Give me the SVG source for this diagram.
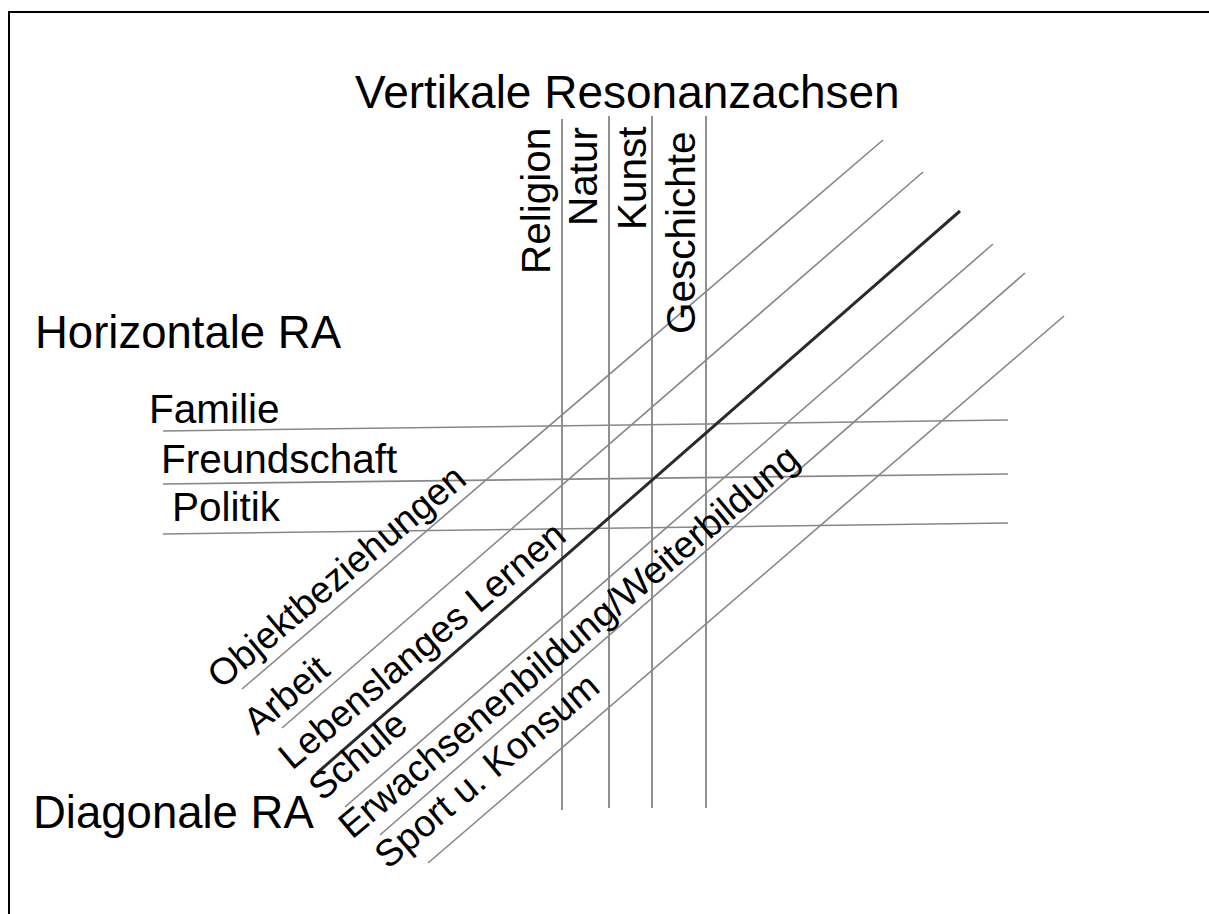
<svg xmlns="http://www.w3.org/2000/svg" width="1209" height="914" viewBox="0 0 1209 914">
  <style>
    .t { font-family: "Liberation Sans", Arial, sans-serif; fill: #000; }
    .head { font-size: 45.5px; }
    .title { font-size: 46px; }
    .lab { font-size: 40.5px; }
    .dlab { font-size: 37.5px; }
    .ax { stroke: #878787; stroke-width: 1.6; fill: none; }
    .axv { stroke: #909090; stroke-width: 2; fill: none; }
    .main { stroke: #2a2a2a; stroke-width: 3; fill: none; }
  </style>
  <rect width="1209" height="914" fill="#fff"/>
  <rect x="9" y="12" width="1300" height="1000" fill="none" stroke="#000" stroke-width="2"/>

  <g id="connectors">
    <!-- vertical axes -->
    <line class="axv" x1="562" y1="119" x2="562" y2="810"/>
    <line class="axv" x1="609" y1="116" x2="609" y2="808"/>
    <line class="axv" x1="652" y1="116" x2="652" y2="808"/>
    <line class="axv" x1="706" y1="116" x2="706" y2="808"/>
    <!-- horizontal axes -->
    <line class="ax" x1="163" y1="431" x2="1008" y2="420"/>
    <line class="ax" x1="163" y1="484" x2="1008" y2="474"/>
    <line class="ax" x1="163" y1="534" x2="1008" y2="523"/>
    <!-- diagonal axes -->
    <line class="ax" x1="242" y1="689" x2="883" y2="140"/>
    <line class="ax" x1="282" y1="728" x2="923" y2="172"/>
    <line class="main" x1="317" y1="773" x2="960" y2="211"/>
    <line class="ax" x1="345" y1="807" x2="993" y2="244"/>
    <line class="ax" x1="380" y1="835" x2="1025" y2="273"/>
    <line class="ax" x1="428" y1="863" x2="1064" y2="316"/>
  </g>

  <g id="headings">
    <text class="t title" x="355" y="108">Vertikale Resonanzachsen</text>
    <text class="t head" x="35" y="348">Horizontale RA</text>
    <text class="t head" x="33" y="828">Diagonale RA</text>
  </g>

  <g id="vertical-labels">
    <text class="t lab" transform="translate(550,274) rotate(-90)">Religion</text>
    <text class="t lab" transform="translate(597,226) rotate(-90)">Natur</text>
    <text class="t lab" transform="translate(646,230) rotate(-90)">Kunst</text>
    <text class="t lab" transform="translate(695,334) rotate(-90)">Geschichte</text>
  </g>

  <g id="horizontal-labels">
    <text class="t lab" x="149" y="423">Familie</text>
    <text class="t lab" x="161" y="473">Freundschaft</text>
    <text class="t lab" x="172" y="521">Politik</text>
  </g>

  <g id="diagonal-labels">
    <text class="t dlab" transform="translate(221,690) rotate(-40)">Objektbeziehungen</text>
    <text class="t dlab" transform="translate(257,736) rotate(-40)">Arbeit</text>
    <text class="t dlab" transform="translate(292,771) rotate(-40)">Lebenslanges Lernen</text>
    <text class="t dlab" transform="translate(322,802) rotate(-40)">Schule</text>
    <text class="t dlab" transform="translate(352,840) rotate(-40)">Erwachsenenbildung/Weiterbildung</text>
    <text class="t dlab" transform="translate(388,870) rotate(-40)">Sport u. Konsum</text>
  </g>
</svg>
